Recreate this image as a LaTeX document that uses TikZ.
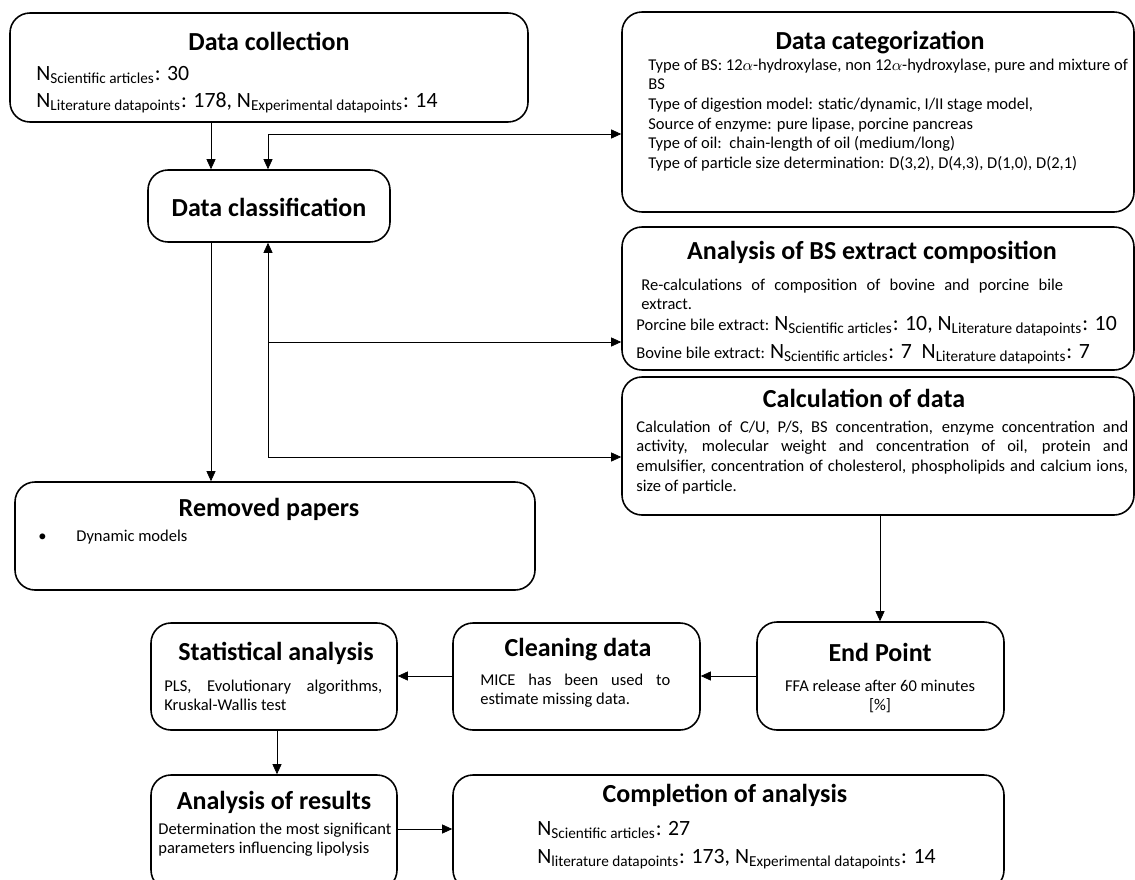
\documentclass[tikz,border=0pt]{standalone}
\usepackage{fontspec}
\setmainfont{Carlito}
\usetikzlibrary{arrows.meta,fit}
\newcommand\bigN{\fontsize{12.4}{14}\selectfont}
\newcommand\Nsub[1]{N\textsubscript{#1}}

\begin{document}
\begin{tikzpicture}[x=0.02cm,y=-0.02cm,>={Triangle[length=2mm,width=1.8mm]},
  box/.style={draw,line width=0.9pt,rounded corners=0.4cm,inner sep=0pt},
  ttl/.style={font=\fontsize{14.8}{17}\selectfont\bfseries,anchor=base,inner sep=0pt},
  txt/.style={font=\fontsize{9.4}{11.2}\selectfont,anchor=base west,inner sep=0pt},
  big/.style={font=\bigN,anchor=base west,inner sep=0pt}]
\useasboundingbox (0,0) rectangle (1135,879);
\clip (0,0) rectangle (1135,879);
% boxes
\node[box,fit={(10,13)(528,122)}] (coll) {};
\node[box,fit={(148,170)(390,242)}] (clas) {};
\node[box,fit={(622,12)(1134,212)}] (cat) {};
\node[box,fit={(622,227)(1134,370)}] (bsa) {};
\node[box,fit={(622,377)(1134,515)}] (calc) {};
\node[box,fit={(15,482)(535,590)}] (rem) {};
\node[box,fit={(151,623)(397,730)}] (stat) {};
\node[box,fit={(453,623)(700,730)}] (clean) {};
\node[box,fit={(757,622)(1004,730)}] (endp) {};
\node[box,fit={(151,775)(397,890)}] (res) {};
\node[box,fit={(453,775)(1004,890)}] (comp) {};
% titles
\node[ttl] (collT) at (269,50) {Data collection};
\node[ttl] (clasT) at (269,216) {Data classification};
\node[ttl] (catT) at (880,49) {Data categorization};
\node[ttl] (bsaT) at (872,259) {Analysis of BS extract composition};
\node[ttl] (calcT) at (864,407) {Calculation of data};
\node[ttl] (remT) at (269,516) {Removed papers};
\node[ttl] (statT) at (276,660) {Statistical analysis};
\node[ttl] (cleanT) at (578,656) {Cleaning data};
\node[ttl] (endpT) at (880,661) {End Point};
\node[ttl] (resT) at (274,809) {Analysis of results};
\node[ttl] (compT) at (725,802) {Completion of analysis};
% texts
\node[big] (coll1) at (36,80) {\Nsub{Scientific articles}: 30};
\node[big] (coll2) at (36,107) {\Nsub{Literature datapoints}: 178, \Nsub{Experimental datapoints}: 14};
\node[txt] (cat1) at (648,70) {\parbox[t]{9.8cm}{Type of BS: 12$\alpha$-hydroxylase, non 12$\alpha$-hydroxylase, pure and mixture of\\
  BS\\
  Type of digestion model: static/dynamic, I/II stage model,\\
  Source of enzyme: pure lipase, porcine pancreas\\
  Type of oil:\ \ chain-length of oil (medium/long)\\
  Type of particle size determination: D(3,2), D(4,3), D(1,0), D(2,1)}};
\node[txt] (bsa1) at (641,290) {\parbox[t]{8.44cm}{Re-calculations of composition of bovine and porcine bile\linebreak extract.}};
\node[txt] (bsa2) at (636,330) {Porcine bile extract: {\bigN\Nsub{Scientific articles}: 10, \Nsub{Literature datapoints}: 10}};
\node[txt] (bsa3) at (636,358) {Bovine bile extract: {\bigN\Nsub{Scientific articles}: 7\ \ \Nsub{Literature datapoints}: 7}};
\node[txt] (calc1) at (636,432) {\parbox[t]{9.84cm}{Calculation of C/U, P/S, BS concentration, enzyme concentration and\linebreak
  activity, molecular weight and concentration of oil, protein and\linebreak
  emulsifier, concentration of cholesterol, phospholipids and calcium ions,\linebreak
  size of particle.}};
\node[txt] (rem1) at (38,541) {\textbullet};
\node[txt] (rem2) at (76,541) {Dynamic models};
\node[txt] (stat1) at (164,691) {\parbox[t]{4.36cm}{PLS, Evolutionary algorithms,\linebreak Kruskal-Wallis test}};
\node[txt] (clean1) at (480,685) {\parbox[t]{3.8cm}{MICE has been used to\linebreak estimate missing data.}};
\node[txt,anchor=base] (endp1) at (880,691) {\parbox[t]{4.6cm}{\centering FFA release after 60 minutes\\{[}\%{]}}};
\node[txt] (res1) at (158,834) {\parbox[t]{4.8cm}{Determination the most significant\\ parameters influencing lipolysis}};
\node[big] (comp1) at (537,835) {\Nsub{Scientific articles}: 27};
\node[big] (comp2) at (537,863) {\Nsub{literature datapoints}: 173, \Nsub{Experimental datapoints}: 14};
% connectors
\coordinate (c1) at (211,0); \coordinate (c2) at (268,0); \coordinate (c3) at (880,0); \coordinate (c4) at (277,0);
\coordinate (r1) at (0,134); \coordinate (r2) at (0,342); \coordinate (r3) at (0,457); \coordinate (r5) at (0,829);
\draw[->] (coll.south -| c1) -- (clas.north -| c1);
\draw[<->] (clas.north -| c2) -- (c2 |- r1) -- (cat.west |- r1);
\draw[->] (clas.south -| c1) -- (rem.north -| c1);
\draw[<->] (clas.south -| c2) -- (c2 |- r3) -- (calc.west |- r3);
\draw[->] (c2 |- r2) -- (bsa.west |- r2);
\draw[->] (calc.south -| c3) -- (endp.north -| c3);
\draw[->] (endp.west) -- (clean.east |- endp.west);
\draw[->] (clean.west |- endp.west) -- (stat.east |- endp.west);
\draw[->] (stat.south -| c4) -- (res.north -| c4);
\draw[->] (res.east |- r5) -- (comp.west |- r5);
\end{tikzpicture}
\end{document}
